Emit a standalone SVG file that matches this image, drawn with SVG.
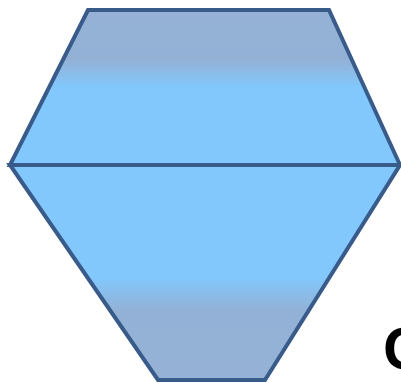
<svg xmlns="http://www.w3.org/2000/svg" width="401" height="383" viewBox="0 0 401 383">
<style>
.shape{stroke:#385B8A;stroke-width:4;stroke-linejoin:miter}
.lbl{font-family:"Liberation Sans",Arial,sans-serif;font-weight:bold;font-size:60px;fill:#000}
</style>
<defs>
<linearGradient id="gTop" gradientUnits="userSpaceOnUse" x1="0" y1="10" x2="0" y2="165">
<stop offset="0" stop-color="#95B2D6"/>
<stop offset="0.32" stop-color="#93B1D6"/>
<stop offset="0.5" stop-color="#82C8FD"/>
<stop offset="1" stop-color="#82C8FD"/>
</linearGradient>
<linearGradient id="gBot" gradientUnits="userSpaceOnUse" x1="0" y1="165" x2="0" y2="380">
<stop offset="0" stop-color="#82C8FD"/>
<stop offset="0.52" stop-color="#82C8FD"/>
<stop offset="0.68" stop-color="#93B1D6"/>
<stop offset="1" stop-color="#95B2D6"/>
</linearGradient>
</defs>
<rect width="401" height="383" fill="#fff"/>
<g id="top">
<polygon class="shape" fill="url(#gTop)" points="88,10 329,10 400,165 10,165"/>
</g>
<g id="bottom">
<polygon class="shape" fill="url(#gBot)" points="10,165 400,165 265,380 158,380"/>
</g>
<g id="connectors"/>
<text class="lbl" x="383" y="369">C</text>
</svg>
